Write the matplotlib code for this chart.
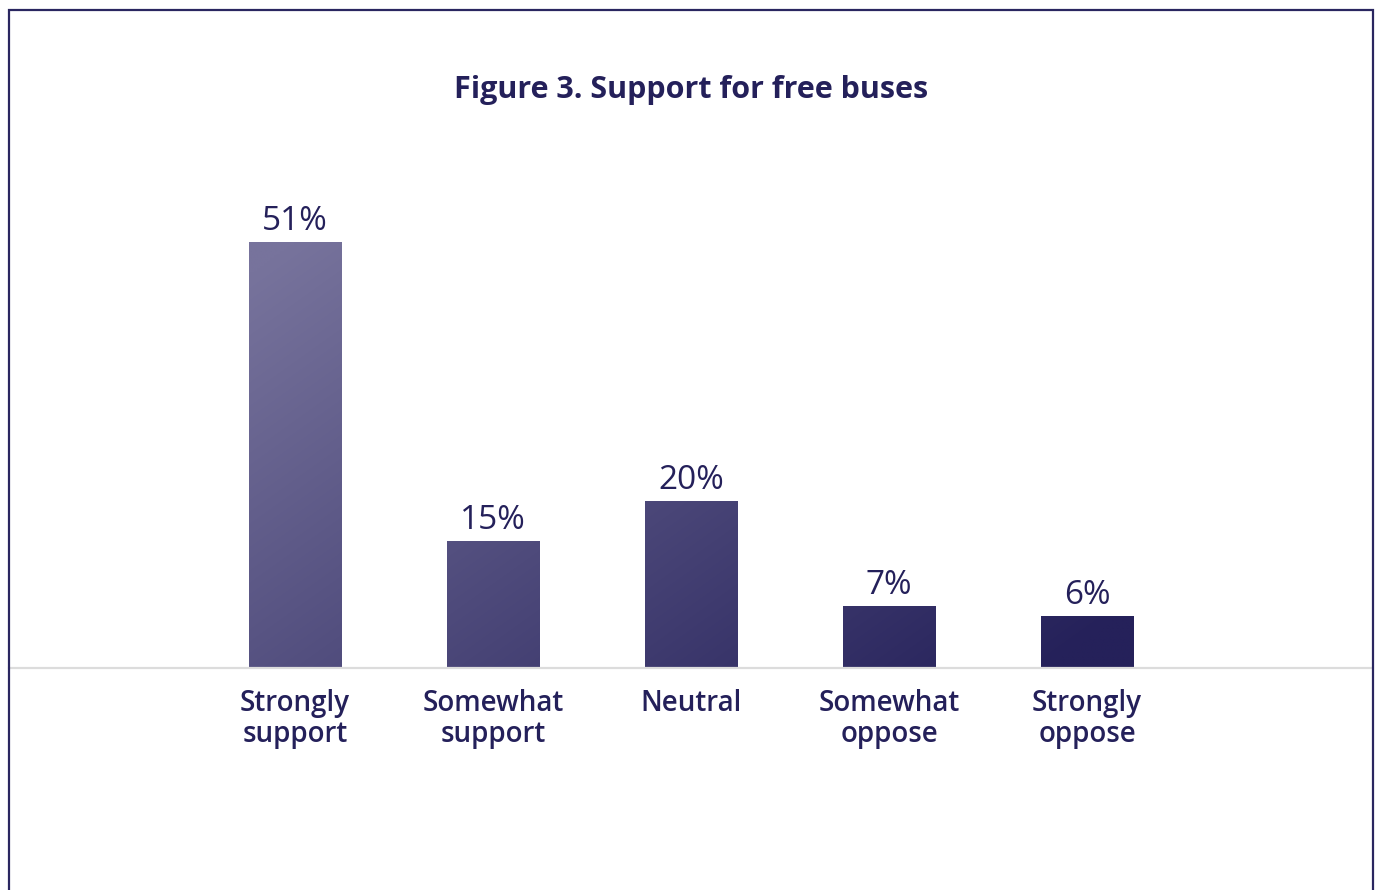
import numpy as np
import matplotlib
matplotlib.use("Agg")
import matplotlib.pyplot as plt
from matplotlib.patches import Rectangle
from matplotlib.colors import to_rgb

# ---- data ----
categories = ["Strongly\nsupport", "Somewhat\nsupport", "Neutral", "Somewhat\noppose", "Strongly\noppose"]
values = [51, 15.2, 20, 7.4, 6.2]          # bar heights
value_labels = ["51%", "15%", "20%", "7%", "6%"]
title = "Figure 3. Support for free buses"

# ---- style ----
FONT = ["Open Sans", "DejaVu Sans"]
plt.rcParams["font.family"] = FONT
text_color = "#24205a"
border_color = "#2a2660"
light = np.array(to_rgb("#77739c"))
dark = np.array(to_rgb("#25215a"))

W, H = 1377, 890
fig = plt.figure(figsize=(W / 100, H / 100), dpi=100)
fig.patch.set_facecolor("white")

# axes placement (pixel based)
ax_left_px, ax_right_px = 9, 1372
base_px, top_px = 668, 150
ax = fig.add_axes([ax_left_px / W, (H - base_px) / H,
                   (ax_right_px - ax_left_px) / W, (base_px - top_px) / H])

x = np.arange(len(categories))
spacing_px = 198.0
c0_px = 295.0
xlim = (-(c0_px - ax_left_px) / spacing_px, (ax_right_px - c0_px) / spacing_px)
px_per_pct = 426 / 51
ylim = (0, (base_px - top_px) / px_per_pct)

bars = ax.bar(x, values, width=0.465, color="none", edgecolor="none", zorder=2)

# diagonal gradient fill, clipped to each bar
gx = np.linspace(-0.5, 4.5, 300)
gy = np.linspace(0, 55, 300)
GX, GY = np.meshgrid(gx, gy)
t = 0.59 * (GX / 4.0) + 0.44 * (51 - GY) / 51.0
t = np.clip(t, 0, 1)
img = light[None, None, :] * (1 - t[..., None]) + dark[None, None, :] * t[..., None]
for b in bars:
    im = ax.imshow(img, extent=[-0.5, 4.5, 0, 55], origin="lower",
                   aspect="auto", interpolation="bilinear", zorder=2)
    im.set_clip_path(b)

ax.set_xlim(*xlim)
ax.set_ylim(*ylim)

# value labels
for xi, v, lab in zip(x, values, value_labels):
    ax.annotate(lab, (xi, v), xytext=(0, 8.5), textcoords="offset points",
                ha="center", va="baseline", fontsize=24, color=text_color,
                fontweight="normal", annotation_clip=False)

# baseline
ax.axhline(0, color="#dcdcdc", lw=1.6, zorder=3, clip_on=False)

ax.set_xticks(x)
ax.set_xticklabels(categories, fontsize=20, fontweight="semibold",
                   color=text_color, linespacing=1.08)
ax.tick_params(axis="x", length=0, pad=15)
ax.set_yticks([])
for s in ax.spines.values():
    s.set_visible(False)
ax.patch.set_alpha(0)

# title
fig.text(691 / W, 1 - 98 / H, title, ha="center", va="baseline",
         fontsize=22, fontweight="bold", color=text_color)

# frame border (open at the bottom)
fig.patches.append(Rectangle((8.5 / W, -0.05), (1373 - 8.5) / W, 1.05 - 10 / H,
                             transform=fig.transFigure, fill=False,
                             edgecolor=border_color, linewidth=1.6, zorder=10))

fig.savefig("out.png", dpi=100, facecolor="white")
